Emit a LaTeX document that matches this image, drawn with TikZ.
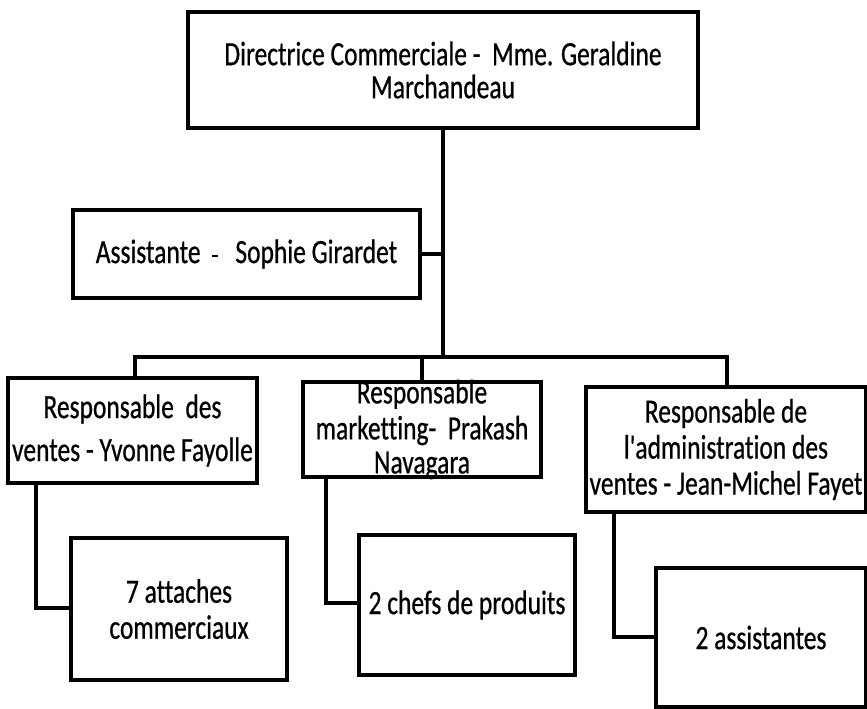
\documentclass[tikz,border=0pt]{standalone}
\usepackage{fontspec}
\setmainfont{Carlito}[FakeStretch=0.75,Ligatures={NoCommon,TeXOff},FakeBold=0.6]
\begin{document}
\begin{tikzpicture}[x=1pt,y=-1pt,
  box/.style={draw, line width=3.5pt, fill=white, inner sep=0pt, align=center,
    font=\fontsize{34}{36}\selectfont},
  conn/.style={line width=4.5pt}]
\useasboundingbox (0,0) rectangle (867,709);
% boxes
\node[box, minimum width=510pt, minimum height=116pt] (dir) at (443,70)
  {Directrice Commerciale -\ \ Mme. Geraldine\\[-3pt]Marchandeau};
\node[box, minimum width=347pt, minimum height=88pt] (asst) at (246.5,254)
  {Assistante\ \ \raisebox{6pt}{\rule{6pt}{2.5pt}}\ \ \ Sophie Girardet};
\node[box, minimum width=249pt, minimum height=105pt] (ventes) at (132.5,430.5)
  {Responsable\ \ des\\[7pt]ventes - Yvonne Fayolle};
\node[box, minimum width=238pt, minimum height=95pt, inner ysep=-8pt] (mkt) at (422,429.5)
  {Responsable\\marketting-\ \ Prakash\\[-2pt]Navagara};
\node[box, minimum width=280pt, minimum height=125pt] (adm) at (726,449.5)
  {Responsable de\\l'administration des\\ventes - Jean-Michel Fayet};
\node[box, minimum width=216pt, minimum height=142pt] (att) at (179,609)
  {7 attaches\\commerciaux};
\node[box, minimum width=216pt, minimum height=140pt] (chefs) at (467,605)
  {2 chefs de produits};
\node[box, minimum width=210pt, minimum height=139pt] (asst2) at (761,637.5)
  {2 assistantes};
% bus coordinates
\coordinate (busT) at (443,357);
\coordinate (busL) at (135,357);
\coordinate (busR) at (727,357);
\coordinate (busM) at (422,357);
\coordinate (vd) at (36,608);
\coordinate (md) at (326,603);
\coordinate (ad) at (614,637);
% connectors
\draw[conn] (dir.south) -- (busT);
\draw[conn] (asst.east) -- (asst.east -| busT);
\draw[conn] (busL |- ventes.north) -- (busL) -- (busR) -- (busR |- adm.north);
\draw[conn] (busM) -- (mkt.north);
\draw[conn] (vd |- ventes.south) -- (vd) -- (att.west |- vd);
\draw[conn] (md |- mkt.south) -- (md) -- (chefs.west |- md);
\draw[conn] (ad |- adm.south) -- (ad) -- (asst2.west |- ad);
\end{tikzpicture}
\end{document}
